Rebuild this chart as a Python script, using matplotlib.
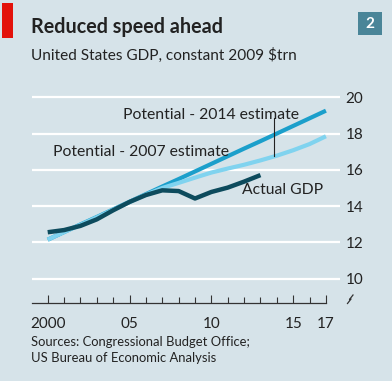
import matplotlib
matplotlib.use("Agg")
import matplotlib.pyplot as plt
from matplotlib.patches import Rectangle
from matplotlib.lines import Line2D

plt.rcParams['font.family'] = ['Lato', 'DejaVu Sans']

# data, $trn constant 2009 dollars
years = list(range(2000, 2018))
actual_years = list(range(2000, 2014))
actual_gdp = [12.56, 12.68, 12.91, 13.27, 13.77, 14.23, 14.61, 14.87, 14.83,
              14.42, 14.78, 15.02, 15.35, 15.71]
potential_2007 = [12.15, 12.57, 12.99, 13.40, 13.82, 14.24, 14.66, 15.08, 15.49,
                  15.91, 16.33, 16.75, 17.17, 17.58, 18.00, 18.42, 18.84, 19.26]
potential_2014 = [12.15, 12.57, 12.97, 13.38, 13.80, 14.22, 14.63, 15.00, 15.28,
                  15.57, 15.85, 16.07, 16.28, 16.52, 16.78, 17.08, 17.42, 17.85]
y_ticks = [10, 12, 14, 16, 18, 20]
x_ticks = [2000, 2005, 2010, 2015, 2017]
x_labels = ["2000", "05", "10", "15", "17"]

W, H = 392, 381
bg = "#d6e3e9"
dark = "#0d4b5d"
mid = "#1b9fcb"
light = "#80d3ef"
txt = "#222222"

fig = plt.figure(figsize=(W / 100, H / 100), dpi=100)
fig.patch.set_facecolor(bg)

def fx(px):
    return px / W

def fy(py):
    return 1 - py / H

# plot area in pixels: left 32, right 340, top 90, bottom 303
ax = fig.add_axes([fx(32), fy(303), fx(340) - fx(32), fy(90) - fy(303)])
ax.set_facecolor(bg)
ax.set_xlim(1999.04, 2017.86)
ax.set_ylim(8.66, 20.4)

for v in y_ticks:
    ax.axhline(v, color="white", lw=1.6, zorder=1)

ax.plot(years, potential_2007, color=mid, lw=3.0, solid_capstyle="butt", zorder=3)
ax.plot(years, potential_2014, color=light, lw=3.0, solid_capstyle="butt", zorder=3)
ax.plot(actual_years, actual_gdp, color=dark, lw=3.2, solid_capstyle="butt", zorder=4)

# pointer for 2014 estimate label
ax.plot([2013.83, 2013.83], [18.85, 16.75], color=txt, lw=0.8, zorder=5)

ax.text(2004.6, 19.0, "Potential - 2014 estimate", fontsize=11.3, color=txt, va="center")
ax.text(2000.3, 16.97, "Potential - 2007 estimate", fontsize=11.3, color=txt, va="center")
ax.text(2011.9, 14.88, "Actual GDP", fontsize=11.3, color=txt, va="center")

for s in ["top", "left", "right"]:
    ax.spines[s].set_visible(False)
ax.spines["bottom"].set_bounds(1999.04, 2017)
ax.spines["bottom"].set_color("#333333")
ax.spines["bottom"].set_linewidth(0.9)

ax.set_xticks(x_ticks)
ax.set_xticklabels(x_labels)
ax.set_xticks(years, minor=True)
ax.tick_params(axis="x", which="major", direction="in", length=6, width=0.8,
               color="#333333", labelsize=11, labelcolor=txt, pad=10)
ax.tick_params(axis="x", which="minor", direction="in", length=4, width=0.8,
               color="#333333")

ax.yaxis.tick_right()
ax.set_yticks(y_ticks)
ax.tick_params(axis="y", length=0, labelsize=11, labelcolor=txt, pad=4)

# axis break mark
fig.add_artist(Line2D([fx(347.5), fx(351), fx(349.5), fx(353)],
                      [fy(303.5), fy(299), fy(299.5), fy(295)],
                      color="#333333", lw=0.9))

# header
fig.add_artist(Rectangle((fx(2), fy(38)), fx(11), fy(3) - fy(38),
                         color="#e3120b", lw=0))
fig.add_artist(Rectangle((fx(358), fy(35)), fx(24), fy(12) - fy(35),
                         color="#4a8598", lw=0))
fig.text(fx(370), fy(24), "2", color="white", fontsize=11, fontweight="bold",
         ha="center", va="center")
fig.text(fx(31), fy(27), "Reduced speed ahead", fontsize=14.2, fontweight="bold",
         color=txt, va="center")
fig.text(fx(31), fy(55), "United States GDP, constant 2009 $trn", fontsize=11.1,
         color=txt, va="center")

fig.text(fx(31), fy(342), "Sources: Congressional Budget Office;", fontsize=9.4,
         color=txt, va="center")
fig.text(fx(31), fy(358), "US Bureau of Economic Analysis", fontsize=9.4,
         color=txt, va="center")

fig.savefig("out.png", dpi=100, facecolor=bg)
